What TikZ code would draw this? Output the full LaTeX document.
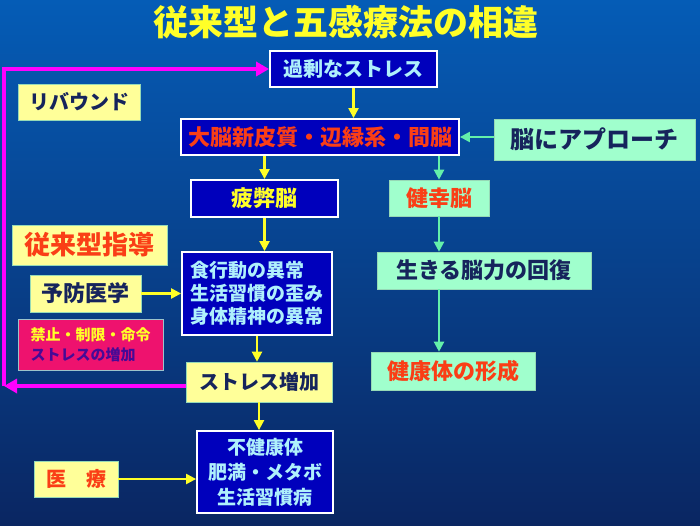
\documentclass[tikz,border=0pt]{standalone}
\usepackage{fontspec}
\setmainfont{Noto Sans CJK JP}
\usepackage{xcolor}
\usepackage{tikz}
\usetikzlibrary{positioning,arrows.meta,calc}
\definecolor{cbgtop}{RGB}{5,92,182}
\definecolor{cbgbot}{RGB}{10,38,98}
\definecolor{cnavy}{RGB}{0,0,188}
\definecolor{ccyan}{RGB}{175,240,252}
\definecolor{cpale}{RGB}{255,255,153}
\definecolor{cmint}{RGB}{160,255,205}
\definecolor{cink}{RGB}{22,36,92}
\definecolor{cred}{RGB}{250,62,22}
\definecolor{cyel}{RGB}{255,255,40}
\definecolor{cmag}{RGB}{255,0,255}
\definecolor{cpink}{RGB}{238,18,110}
\definecolor{cpurp}{RGB}{70,10,150}
\definecolor{cgreen}{RGB}{100,240,170}

\begin{document}
\begin{tikzpicture}[x=1pt, y=-1pt,
  navybox/.style={draw=white, line width=1.8pt, fill=cnavy, text=ccyan, inner sep=0pt, font=\bfseries\fontsize{20}{23}\selectfont},
  palebox/.style={draw=cmint!70!gray, line width=0.6pt, fill=cpale, text=cink, inner sep=0pt, font=\bfseries\fontsize{20}{23}\selectfont},
  mintbox/.style={draw=cmint!70!gray, line width=0.6pt, fill=cmint, text=cink, inner sep=0pt, font=\bfseries\fontsize{22}{25}\selectfont},
  yarrow/.style={-{Triangle[length=10pt, width=10pt]}, line width=2.2pt, draw=cyel},
  garrow/.style={-{Triangle[length=10pt, width=10pt]}, line width=2.2pt, draw=cgreen},
  marrow/.style={-{Triangle[length=13pt, width=14pt]}, line width=4pt, draw=cmag}]
\shade[top color=cbgtop, bottom color=cbgbot] (0,0) rectangle (700,526);
\useasboundingbox (0,0) rectangle (700,526);
\node[text=cyel, font=\bfseries\fontsize{35}{37}\selectfont] (title) at (346,22) {従来型と五感療法の相違};
\node[navybox, minimum width=167pt, minimum height=36pt] (kajo) at (353.5,69) {過剰なストレス};
\node[navybox, minimum width=278pt, minimum height=36pt, text=cred, font=\bfseries\fontsize{22}{25}\selectfont] (daino) at (320,137) {大脳新皮質・辺縁系・間脳};
\node[mintbox, minimum width=201pt, minimum height=41pt, font=\bfseries\fontsize{24}{27}\selectfont] (approach) at (594.5,139.5) {脳にアプローチ};
\node[palebox, minimum width=122pt, minimum height=36pt] (rebound) at (79,102) {リバウンド};
\node[navybox, minimum width=147pt, minimum height=37pt, text=cyel, font=\bfseries\fontsize{22}{25}\selectfont] (hihei) at (264.5,198.5) {疲弊脳};
\node[mintbox, minimum width=100pt, minimum height=36pt, text=cred] (kenko) at (439,198) {健幸脳};
\node[palebox, minimum width=155pt, minimum height=40pt, text=cred, font=\bfseries\fontsize{26}{28}\selectfont] (jurai) at (89.5,245) {従来型指導};
\node[navybox, minimum width=150pt, minimum height=83pt, align=left, font=\bfseries\fontsize{19}{23}\selectfont] (shoku) at (257,293.5) {食行動の異常\\生活習慣の歪み\\身体精神の異常};
\node[palebox, minimum width=111pt, minimum height=37pt, font=\bfseries\fontsize{22}{25}\selectfont] (yobo) at (85.5,293.5) {予防医学};
\node[draw=ccyan!60!gray, line width=0.8pt, fill=cpink, inner sep=0pt, minimum width=145pt, minimum height=51pt, align=left, font=\bfseries\fontsize{15}{20}\selectfont] (kinshi) at (90.5,344.5) {\textcolor{cyel}{禁止・制限・命令}\\\textcolor{cpurp}{ストレスの増加}};
\node[mintbox, minimum width=214pt, minimum height=37pt] (ikiru) at (484,270.5) {生きる脳力の回復};
\node[mintbox, minimum width=164pt, minimum height=38pt, text=cred] (kenkotai) at (453,371) {健康体の形成};
\node[palebox, minimum width=146pt, minimum height=40pt] (zoka) at (259,382) {ストレス増加};
\node[navybox, minimum width=136pt, minimum height=82pt, align=center, font=\bfseries\fontsize{19}{25}\selectfont] (fukenko) at (265,472) {不健康体\\肥満・メタボ\\生活習慣病};
\node[palebox, minimum width=84pt, minimum height=36pt, text=cred] (iryo) at (76,479) {医　療};
\coordinate (ret) at (4,386);
\draw[yarrow] (kajo.south) -- (kajo.south |- daino.north);
\draw[yarrow] (hihei.north |- daino.south) -- (hihei.north);
\draw[garrow] (kenko.north |- daino.south) -- (kenko.north);
\draw[yarrow] (hihei.south) -- (hihei.south |- shoku.north);
\draw[yarrow] (shoku.south) -- (shoku.south |- zoka.north);
\draw[yarrow] (zoka.south) -- (zoka.south |- fukenko.north);
\draw[yarrow] (yobo.east) -- (shoku.west |- yobo.east);
\draw[yarrow] (iryo.east) -- (fukenko.west |- iryo.east);
\draw[garrow] (kenko.south) -- (kenko.south |- ikiru.north);
\draw[garrow] (kenko.south |- ikiru.south) -- (kenko.south |- kenkotai.north);
\draw[garrow] (approach.west |- daino.east) -- (daino.east);
\draw[marrow] (zoka.west |- ret) -- (ret);
\draw[marrow] (ret) |- (kajo.west);
\end{tikzpicture}
\end{document}
